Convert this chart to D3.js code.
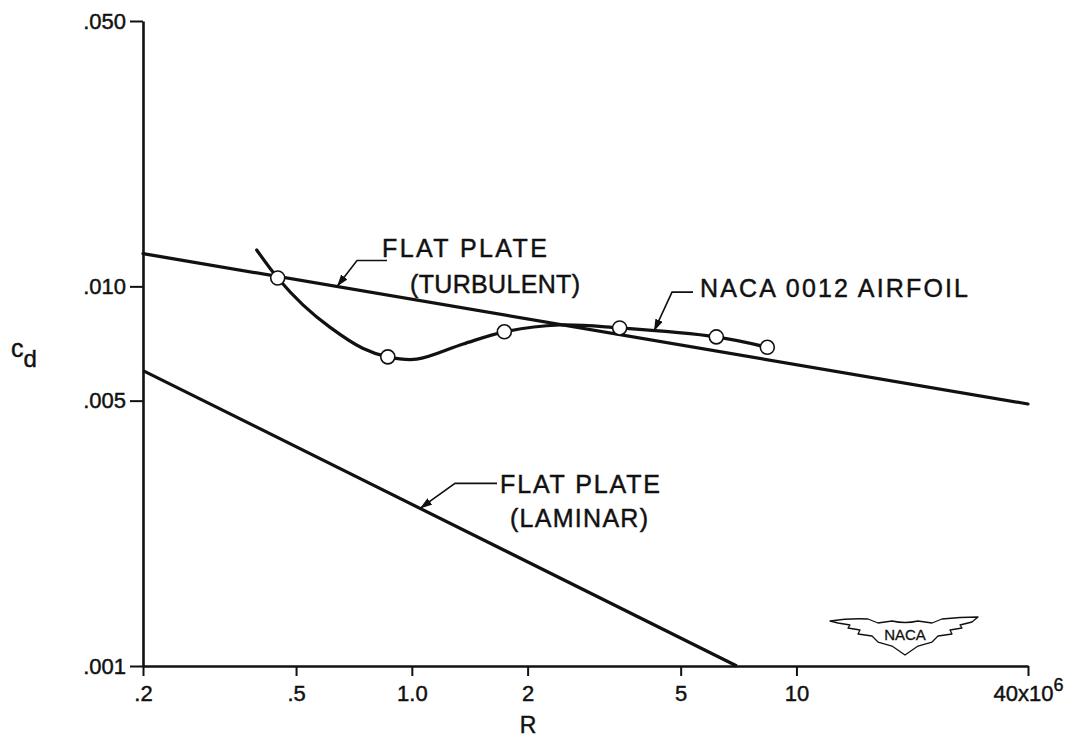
<!DOCTYPE html>
<html>
<head>
<meta charset="utf-8">
<script src="https://cdn.jsdelivr.net/npm/d3@7"></script>
<style>
  html, body { margin: 0; padding: 0; background: #fff; }
  svg { display: block; }
  text { font-family: "Liberation Sans", Arial, sans-serif; fill: #111; stroke: #111; stroke-width: 0.45px; }
</style>
</head>
<body>
<svg id="chart" width="1089" height="738"></svg>
<script>
// ---- data (R in millions, cd) ----
const xTickVals = [0.2, 0.5, 1, 2, 5, 10, 40];
const xTickLabels = [".2", ".5", "1.0", "2", "5", "10", "40"];
const yTickVals = [0.001, 0.005, 0.01, 0.05];
const yTickLabels = [".001", ".005", ".010", ".050"];

const turbR = [0.2, 40];
const turbCd = [0.0122, 0.0049];

const lamR = [0.2, 7.0];
const lamCd = [0.0060, 0.0010];

const nacaCurveR = [0.395, 0.448, 0.521, 0.612, 0.745, 0.866, 1.03, 1.36, 1.74, 2.42, 3.47, 6.19, 8.40];
const nacaCurveCd = [0.01247, 0.01052, 0.00894, 0.00781, 0.00687, 0.00652, 0.00643, 0.00705, 0.00759, 0.00791, 0.00777, 0.00736, 0.00691];

const nacaPtsR = [0.448, 0.866, 1.74, 3.47, 6.19, 8.40];
const nacaPtsCd = [0.01052, 0.00652, 0.00759, 0.00777, 0.00736, 0.00691];

// ---- scales ----
const svg = d3.select("#chart");
const x = d3.scaleLog().domain([0.2, 40]).range([143, 1028]);
const y = d3.scaleLog().domain([0.001, 0.05]).range([666, 21]);

const ink = "#111";

// ---- axes ----
const xAxis = d3.axisBottom(x)
  .tickValues(xTickVals)
  .tickFormat((d, i) => xTickLabels[i])
  .tickSizeInner(10).tickSizeOuter(0).tickPadding(9);
const gx = svg.append("g").attr("transform", `translate(0,${y(0.001)})`).call(xAxis);
gx.attr("font-size", null).attr("font-family", null);
gx.select(".domain").attr("stroke", ink).attr("stroke-width", 2.6);
gx.selectAll(".tick line").attr("stroke", ink).attr("stroke-width", 2);
gx.selectAll(".tick text").style("font-size", "22px").attr("fill", ink);
// superscript exponent on last label
gx.selectAll(".tick text").filter((d) => d === 40).each(function () {
  const t = d3.select(this);
  t.text("40");
  t.append("tspan").text("x10");
  t.append("tspan").style("font-size", "18px").attr("dy", "-0.55em").text("6");
});

const yAxis = d3.axisLeft(y)
  .tickValues(yTickVals)
  .tickFormat((d, i) => yTickLabels[i])
  .tickSizeInner(13).tickSizeOuter(0).tickPadding(4);
const gy = svg.append("g").attr("transform", `translate(${x(0.2)},0)`).call(yAxis);
gy.attr("font-size", null).attr("font-family", null);
gy.select(".domain").attr("stroke", ink).attr("stroke-width", 2.6);
gy.selectAll(".tick line").attr("stroke", ink).attr("stroke-width", 2);
gy.selectAll(".tick text").style("font-size", "22px").attr("fill", ink);

// axis titles
svg.append("text").attr("x", 528).attr("y", 733).attr("text-anchor", "middle")
  .style("font-size", "23px").text("R");
const cd = svg.append("text").attr("x", 11).attr("y", 357).style("font-size", "25px");
cd.append("tspan").text("c");
cd.append("tspan").attr("dy", 10).style("font-size", "24px").text("d");

// ---- lines ----
const lineGen = d3.line().x(d => x(d[0])).y(d => y(d[1]));
const turbData = turbR.map((r, i) => [r, turbCd[i]]);
const lamData = lamR.map((r, i) => [r, lamCd[i]]);
const nacaData = nacaCurveR.map((r, i) => [r, nacaCurveCd[i]]);

svg.append("path").datum(turbData).attr("d", lineGen)
  .attr("fill", "none").attr("stroke", ink).attr("stroke-width", 3.2).attr("stroke-linecap", "round");
svg.append("path").datum(lamData).attr("d", lineGen)
  .attr("fill", "none").attr("stroke", ink).attr("stroke-width", 3.2).attr("stroke-linecap", "butt");
svg.append("path").datum(nacaData)
  .attr("d", d3.line().x(d => x(d[0])).y(d => y(d[1])).curve(d3.curveCatmullRom.alpha(0.5)))
  .attr("fill", "none").attr("stroke", ink).attr("stroke-width", 3.2).attr("stroke-linecap", "round");

svg.append("g").selectAll("circle")
  .data(nacaPtsR.map((r, i) => [r, nacaPtsCd[i]]))
  .join("circle")
  .attr("cx", d => x(d[0])).attr("cy", d => y(d[1])).attr("r", 7)
  .attr("fill", "#fff").attr("stroke", ink).attr("stroke-width", 1.6);

// ---- annotations with leaders ----
const defs = svg.append("defs");
defs.append("marker").attr("id", "arr").attr("viewBox", "0 0 12 8")
  .attr("refX", 12).attr("refY", 4).attr("markerWidth", 12).attr("markerHeight", 8)
  .attr("markerUnits", "userSpaceOnUse").attr("orient", "auto")
  .append("path").attr("d", "M0,0 L12,4 L0,8 Z").attr("fill", ink);

function logInterp(rs, cs, r) {
  const lr = Math.log10(r);
  for (let i = 0; i < rs.length - 1; i++) {
    const a = Math.log10(rs[i]), b = Math.log10(rs[i + 1]);
    if (lr >= a && lr <= b) {
      const t = (lr - a) / (b - a);
      return Math.pow(10, Math.log10(cs[i]) + t * (Math.log10(cs[i + 1]) - Math.log10(cs[i])));
    }
  }
  return cs[cs.length - 1];
}
function leader(r, rs, cs, dxE, dyE, len) {
  const tx = x(r), ty = y(logInterp(rs, cs, r));
  const ex = tx + dxE, ey = ty + dyE;
  svg.append("path")
    .attr("d", `M${ex + len},${ey} H${ex} L${tx},${ty}`)
    .attr("fill", "none").attr("stroke", ink).attr("stroke-width", 1.6)
    .attr("marker-end", "url(#arr)");
}
leader(x.invert(337), turbR, turbCd, 20, -26, 30);
leader(x.invert(654), nacaPtsR, nacaPtsCd, 18, -39, 21);
leader(x.invert(420), lamR, lamCd, 35, -25, 42);

function label(txt, xx, yy, len, fs) {
  svg.append("text").attr("x", xx).attr("y", yy).style("font-size", (fs || 25) + "px")
    .attr("textLength", len).attr("lengthAdjust", "spacing").text(txt);
}
label("FLAT PLATE", 382, 257, 165);
label("(TURBULENT)", 410, 293, 170);
label("NACA  0012  AIRFOIL", 700, 297, 268);
label("FLAT PLATE", 500, 493, 160);
label("(LAMINAR)", 510, 527, 138);

// ---- NACA emblem ----
const emb = svg.append("g");
emb.append("path")
  .attr("d", "M830,621 Q850,618 868,619 L878,623 L892,621 Q905,624 918,621 L932,623 L942,619 Q960,617 978,617 " +
             "L972,622 L960,625 L962,628 L950,630 L952,634 L938,636 L932,642 L918,646 L905,655 L892,646 " +
             "L878,642 L872,636 L858,634 L860,630 L848,628 L850,625 L838,623 Z")
  .attr("fill", "#fff").attr("stroke", ink).attr("stroke-width", 1.3).attr("stroke-linejoin", "round");
emb.append("text").attr("x", 905).attr("y", 640).attr("text-anchor", "middle")
  .style("font-size", "15px").style("stroke-width", "0.3px").text("NACA");
</script>
</body>
</html>
